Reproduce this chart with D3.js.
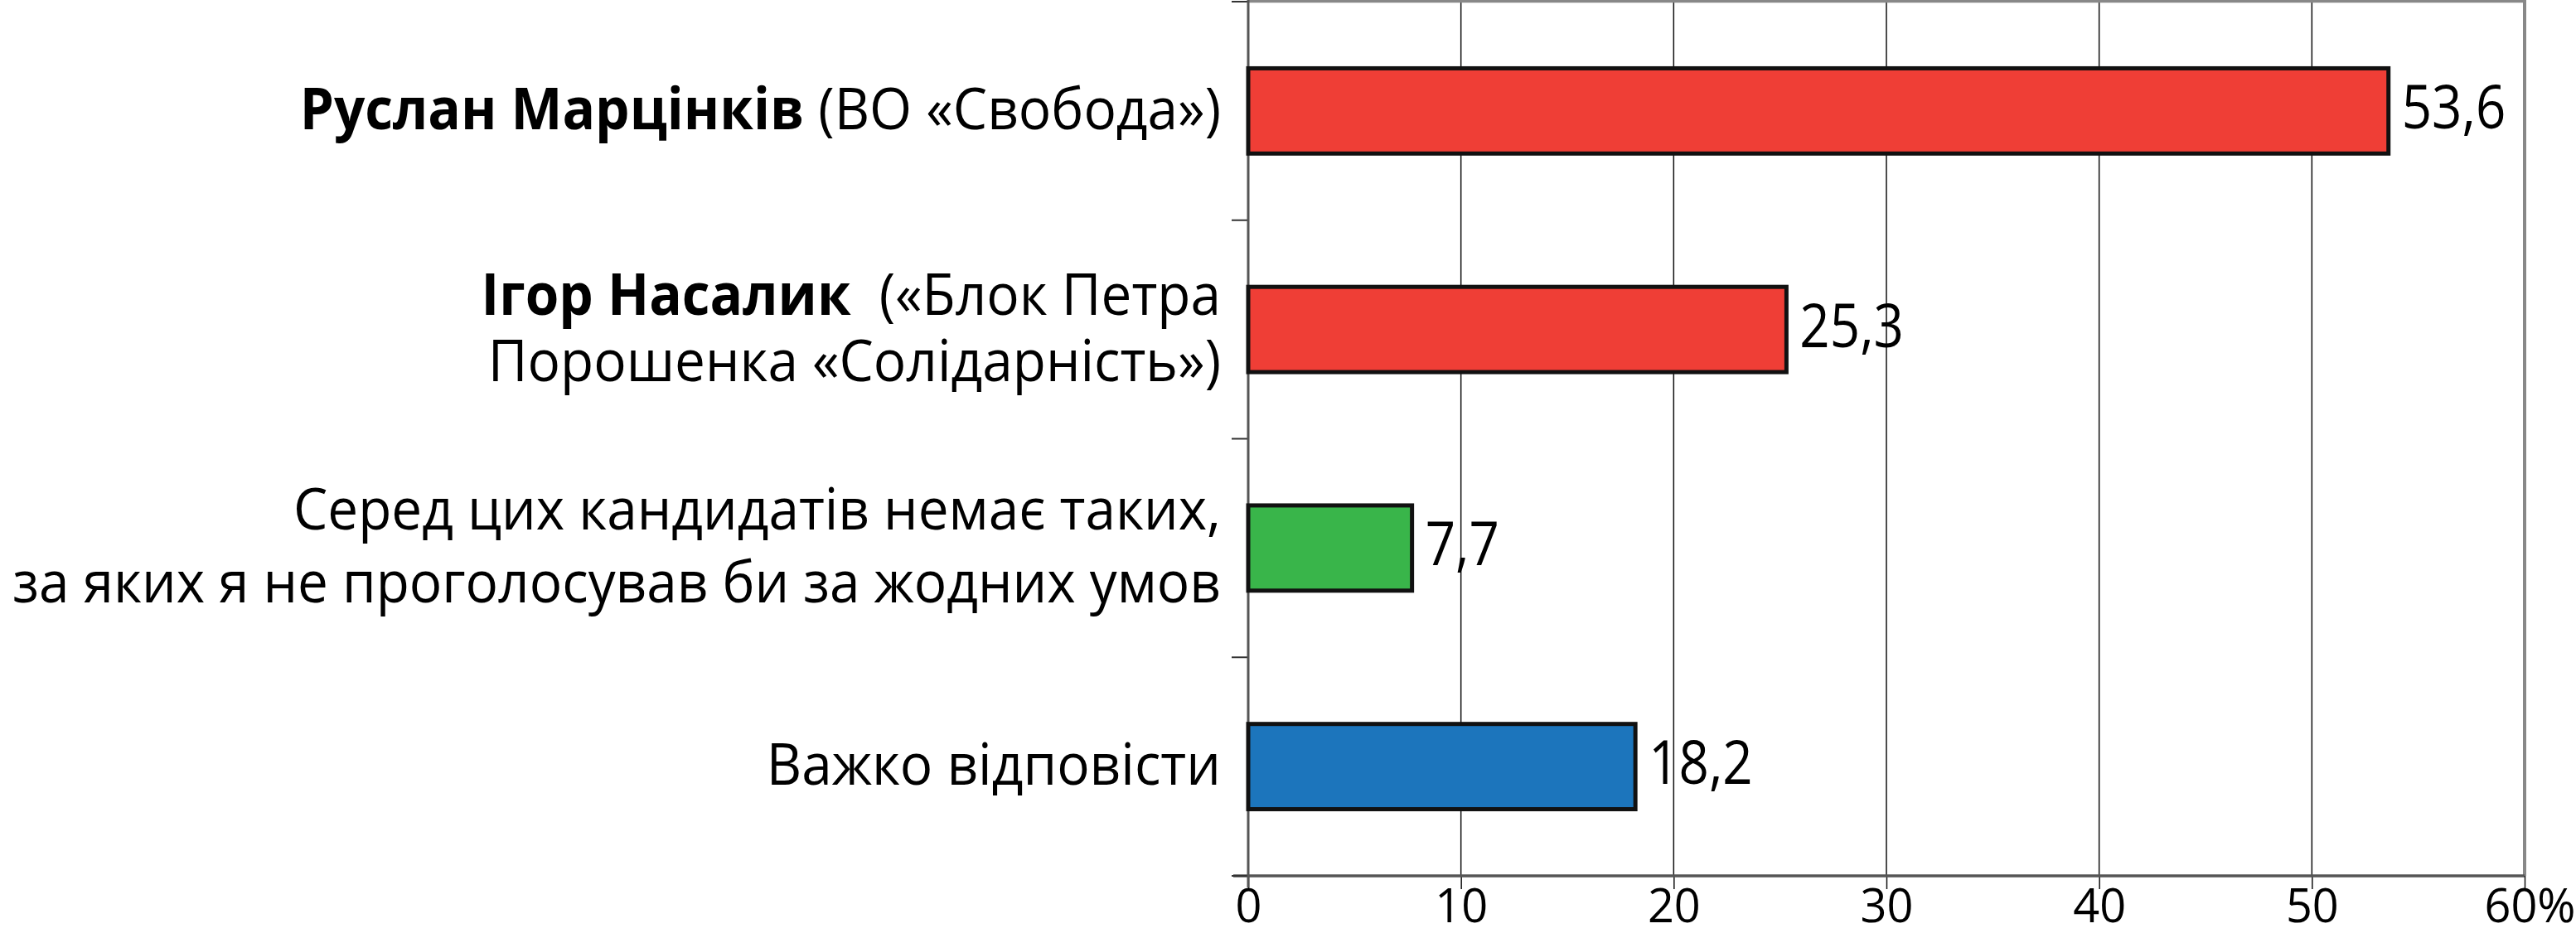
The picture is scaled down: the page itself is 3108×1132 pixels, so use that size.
<!DOCTYPE html>
<html>
<head>
<meta charset="utf-8">
<script src="https://cdn.jsdelivr.net/npm/d3@7"></script>
<style>
  html, body { margin: 0; padding: 0; background: #fff; }
  svg { display: block; }
  text { font-family: "Open Sans", "Noto Sans", sans-serif; fill: #000; white-space: pre; }
</style>
</head>
<body>
<svg id="chart" width="3108" height="1132"></svg>
<script>
// ---- data ----
const categories = ["c1", "c2", "c3", "c4"];
const labelLines = [
  [[{t: "Руслан Марцінків", b: true}, {t: " (ВО «Свобода»)", b: false}]],
  [[{t: "Ігор Насалик", b: true}, {t: "  («Блок Петра", b: false}],
   [{t: "Порошенка «Солідарність»)", b: false}]],
  [[{t: "Серед цих кандидатів немає таких,", b: false}],
   [{t: "за яких я не проголосував би за жодних умов", b: false}]],
  [[{t: "Важко відповісти", b: false}]]
];
const values = [53.6, 25.3, 7.7, 18.2];
const valueLabels = ["53,6", "25,3", "7,7", "18,2"];
const barColors = ["#EF3E36", "#EF3E36", "#39B54A", "#1C75BC"];
const xTicks = [0, 10, 20, 30, 40, 50, 60];
const xTickLabels = ["0", "10", "20", "30", "40", "50", "60%"];

// ---- layout / style ----
const svg = d3.select("#chart");
const pLeft = 1506, pRight = 3046, pTop = 2, pBottom = 1057;
const labelScale = 0.938;
const lineGaps = [80, 80, 88, 80];

const x = d3.scaleLinear().domain([0, 60]).range([pLeft, pRight]);
const pad = 0.61;
const y = d3.scaleBand().domain(categories).range([pTop, pBottom])
  .paddingInner(pad).paddingOuter(pad / 2);

// gridlines
svg.append("g").selectAll("line").data(xTicks.slice(1, -1)).join("line")
  .attr("x1", d => x(d)).attr("x2", d => x(d))
  .attr("y1", pTop).attr("y2", pBottom)
  .attr("stroke", "#111").attr("stroke-width", 1.5);

// frame top and right
svg.append("line").attr("x1", pLeft).attr("x2", pRight + 2).attr("y1", 1.5).attr("y2", 1.5)
  .attr("stroke", "#888").attr("stroke-width", 3.5);
svg.append("line").attr("x1", pRight).attr("x2", pRight).attr("y1", 0).attr("y2", pBottom)
  .attr("stroke", "#888").attr("stroke-width", 4);

// bottom axis
const xAxis = d3.axisBottom(x).tickValues(xTicks).tickSize(16)
  .tickFormat((d, i) => xTickLabels[i]);
const gx = svg.append("g").attr("transform", `translate(0,${pBottom})`).call(xAxis);
gx.select(".domain").remove();
gx.selectAll(".tick line").attr("stroke", "#111").attr("stroke-width", 1.5);
gx.selectAll(".tick text")
  .attr("font-size", 57).attr("dy", 0).attr("y", 0)
  .attr("transform", (d, i) => `translate(${i === xTicks.length - 1 ? 6 : 0},56) scale(0.98,1)`)
  .attr("font-family", "'Open Sans', sans-serif").attr("fill", "#000");
svg.append("line").attr("x1", pLeft - 18).attr("x2", pRight).attr("y1", pBottom).attr("y2", pBottom)
  .attr("stroke", "#555").attr("stroke-width", 3.5);

// left axis with ticks at band boundaries
const step = y.step();
const boundaries = categories.map(c => y(c) - step * pad / 2).concat([pBottom]);
svg.append("g").selectAll("line").data(boundaries).join("line")
  .attr("x1", pLeft - 20).attr("x2", pLeft).attr("y1", d => d).attr("y2", d => d)
  .attr("stroke", "#333").attr("stroke-width", 2);
svg.append("line").attr("x1", pLeft).attr("x2", pLeft).attr("y1", 0).attr("y2", pBottom + 14)
  .attr("stroke", "#555").attr("stroke-width", 3);

// bars
svg.append("g").selectAll("rect").data(values).join("rect")
  .attr("x", x(0))
  .attr("y", (d, i) => y(categories[i]))
  .attr("width", d => x(d) - x(0))
  .attr("height", y.bandwidth())
  .attr("fill", (d, i) => barColors[i])
  .attr("stroke", "#111").attr("stroke-width", 5);

// value labels
svg.append("g").selectAll("text").data(values).join("text")
  .attr("transform", (d, i) =>
    `translate(${x(d) + 16},${y(categories[i]) + y.bandwidth() / 2 + 21}) scale(0.86,1)`)
  .attr("font-size", 74)
  .text((d, i) => valueLabels[i]);

// category labels
labelLines.forEach((lines, i) => {
  const c = y(categories[i]) + y.bandwidth() / 2;
  const gap = lineGaps[i];
  lines.forEach((parts, j) => {
    const t = svg.append("text")
      .attr("transform",
        `translate(${pLeft - 33},${c + 22 + (j - (lines.length - 1) / 2) * gap}) scale(${labelScale},1)`)
      .attr("text-anchor", "end")
      .attr("font-size", 70);
    parts.forEach(p => {
      t.append("tspan").attr("font-weight", p.b ? 700 : 400).text(p.t);
    });
  });
});
</script>
</body>
</html>
